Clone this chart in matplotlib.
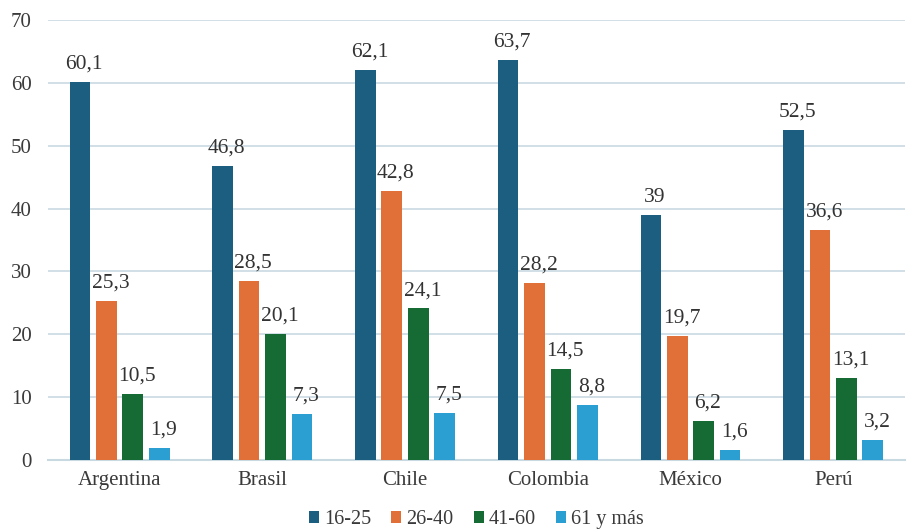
import numpy as np
import matplotlib.pyplot as plt

paises = ["Argentina", "Brasil", "Chile", "Colombia", "México", "Perú"]
series = ["16-25", "26-40", "41-60", "61 y más"]
v_16_25 = [60.1, 46.8, 62.1, 63.7, 39, 52.5]
v_26_40 = [25.3, 28.5, 42.8, 28.2, 19.7, 36.6]
v_41_60 = [10.5, 20.1, 24.1, 14.5, 6.2, 13.1]
v_61 = [1.9, 7.3, 7.5, 8.8, 1.6, 3.2]
colores = ["#1b5e80", "#e07038", "#166b35", "#2b9fd2"]

plt.rcParams['font.family'] = ['Liberation Serif', 'DejaVu Serif']

fig = plt.figure(figsize=(9.1, 5.31), dpi=100)
ax = fig.add_axes([0.053, 0.134, 0.941, 0.828])

x = np.arange(len(paises))
ancho = 0.145
paso = 0.185
for i, (nombre, vals) in enumerate(zip(series, [v_16_25, v_26_40, v_41_60, v_61])):
    pos = x + (i - 1.5) * paso
    ax.bar(pos, vals, width=ancho, color=colores[i], label=nombre, zorder=3)
    for px, v in zip(pos, vals):
        txt = f"{v:g}".replace(".", ",")
        ax.annotate(txt, (px, v), xytext=(3, 6), textcoords="offset points",
                    ha="center", va="bottom", fontsize=15.5, color="#333333")

ax.set_xlim(-0.5, 5.5)
ax.set_ylim(0, 70)
ax.set_yticks(range(0, 71, 10))
ax.set_xticks(x)
ax.set_xticklabels(paises)
ax.tick_params(axis="both", length=0, labelsize=15, colors="#3a3a3a")
ax.tick_params(axis="y", pad=12)
ax.tick_params(axis="x", pad=8)
ax.grid(axis="y", color="#c9d9e2", linewidth=1.2, zorder=0)
for s in ["top", "right", "left"]:
    ax.spines[s].set_visible(False)
ax.spines["bottom"].set_color("#c9d9e2")
ax.spines["bottom"].set_linewidth(1.5)

ax.legend(loc="center", bbox_to_anchor=(0.5, -0.136), ncol=4, frameon=False,
          fontsize=14.5, handlelength=0.5, handleheight=0.5, handletextpad=0.25,
          columnspacing=1.0, labelcolor="#3a3a3a", borderpad=0.1)

fig.savefig("out.png", dpi=100)
